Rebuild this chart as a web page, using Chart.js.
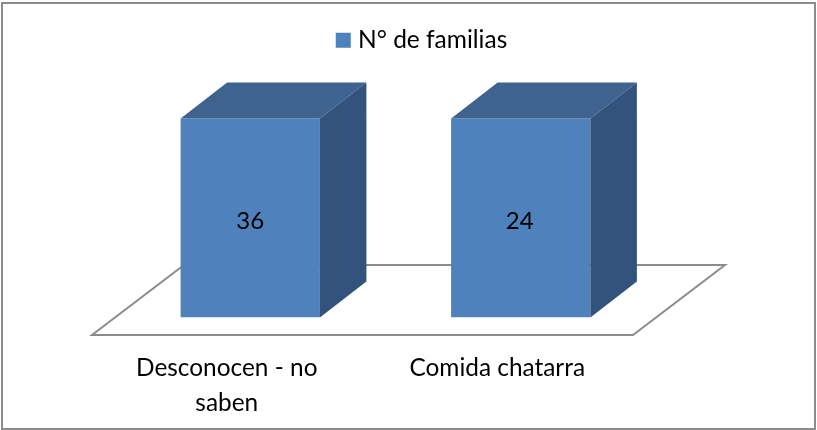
<!DOCTYPE html>
<html>
<head>
<meta charset="utf-8">
<style>
    html, body { margin: 0; padding: 0; background: #fff; }
    #wrap { width: 817px; height: 430px; }
</style>
<script src="https://cdn.jsdelivr.net/npm/chart.js@4"></script>
</head>
<body>
<div id="wrap"><canvas id="chart" width="817" height="430"></canvas></div>
<script>
const categories = [['Desconocen - no', 'saben'], 'Comida chatarra'];
const seriesName = 'N° de familias';
// bars are 100% stacked in the original, so both reach the top
const barShare = [100, 100];
const familias = [36, 24];

const FRONT = '#4f81bd';
const TOP = '#3e638f';
const SIDE = '#32537b';
const LINE = '#8c8c8c';
const DEPTH_X = 46.5;
const DEPTH_Y = 36;

function poly(ctx, pts, fill) {
    ctx.beginPath();
    ctx.moveTo(pts[0][0], pts[0][1]);
    for (let i = 1; i < pts.length; i++) ctx.lineTo(pts[i][0], pts[i][1]);
    ctx.closePath();
    ctx.fillStyle = fill;
    ctx.fill();
}

const framePlugin = {
    id: 'frame',
    afterLayout(chart) {
        // legend sits right of centre in the original
        chart.legend.left += 38.5;
        chart.legend.right += 38.5;
    },
    beforeDatasetsDraw(chart) {
        const ctx = chart.ctx;
        const base = chart.scales.y.getPixelForValue(0);
        const left = chart.chartArea.left;
        const right = chart.chartArea.right;
        ctx.save();
        ctx.strokeStyle = LINE;
        ctx.lineWidth = 2;
        ctx.strokeRect(2, 3, 813, 426);

        // floor
        const front = base + 17.5;
        const back = front - 70;
        ctx.beginPath();
        ctx.moveTo(left - 23, front);
        ctx.lineTo(right - 23, front);
        ctx.lineTo(right + 69, back);
        ctx.lineTo(left + 69, back);
        ctx.closePath();
        ctx.stroke();
        ctx.restore();
    },
    afterDatasetsDraw(chart) {
        const ctx = chart.ctx;
        const bars = chart.getDatasetMeta(0).data;
        ctx.save();
        bars.forEach((bar, i) => {
            const l = bar.x - bar.width / 2;
            const r = bar.x + bar.width / 2;
            poly(ctx, [[l, bar.y], [l + DEPTH_X, bar.y - DEPTH_Y], [r + DEPTH_X, bar.y - DEPTH_Y], [r, bar.y]], TOP);
            poly(ctx, [[r, bar.y], [r + DEPTH_X, bar.y - DEPTH_Y], [r + DEPTH_X, bar.base - DEPTH_Y], [r, bar.base]], SIDE);
            ctx.fillStyle = '#000';
            ctx.font = '24px Lato';
            ctx.textAlign = 'center';
            ctx.textBaseline = 'middle';
            ctx.fillText(String(familias[i]), bar.x - i, (bar.y + bar.base) / 2 + 3);
        });
        ctx.restore();
    }
};

new Chart(document.getElementById('chart'), {
    type: 'bar',
    data: {
        labels: categories,
        datasets: [{
            label: seriesName,
            data: barShare,
            backgroundColor: FRONT,
            barPercentage: 0.515,
            categoryPercentage: 1
        }]
    },
    options: {
        responsive: false,
        animation: false,
        layout: { padding: { left: 115, right: 161, top: 21, bottom: 0 } },
        scales: {
            x: {
                grid: { display: false },
                border: { display: false },
                afterFit: (s) => { s.height = 112.5; },
                ticks: {
                    color: '#000',
                    font: { family: 'Lato', size: 24.4, lineHeight: 1.4 },
                    labelOffset: -23.5,
                    padding: 26,
                    maxRotation: 0
                }
            },
            y: {
                display: false,
                min: 0,
                max: 128.2
            }
        },
        plugins: {
            legend: {
                position: 'top',
                labels: {
                    color: '#000',
                    font: { family: 'Lato', size: 24.5 },
                    // small box plus a thick outline: the text sits closer to the square
                    boxWidth: 5,
                    boxHeight: 5,
                    padding: 7,
                    generateLabels(chart) {
                        return Chart.defaults.plugins.legend.labels.generateLabels(chart).map((item) => {
                            item.lineWidth = 10;
                            item.strokeStyle = FRONT;
                            item.lineJoin = 'miter';
                            return item;
                        });
                    }
                }
            },
            tooltip: { enabled: false }
        }
    },
    plugins: [framePlugin]
});
</script>
</body>
</html>
